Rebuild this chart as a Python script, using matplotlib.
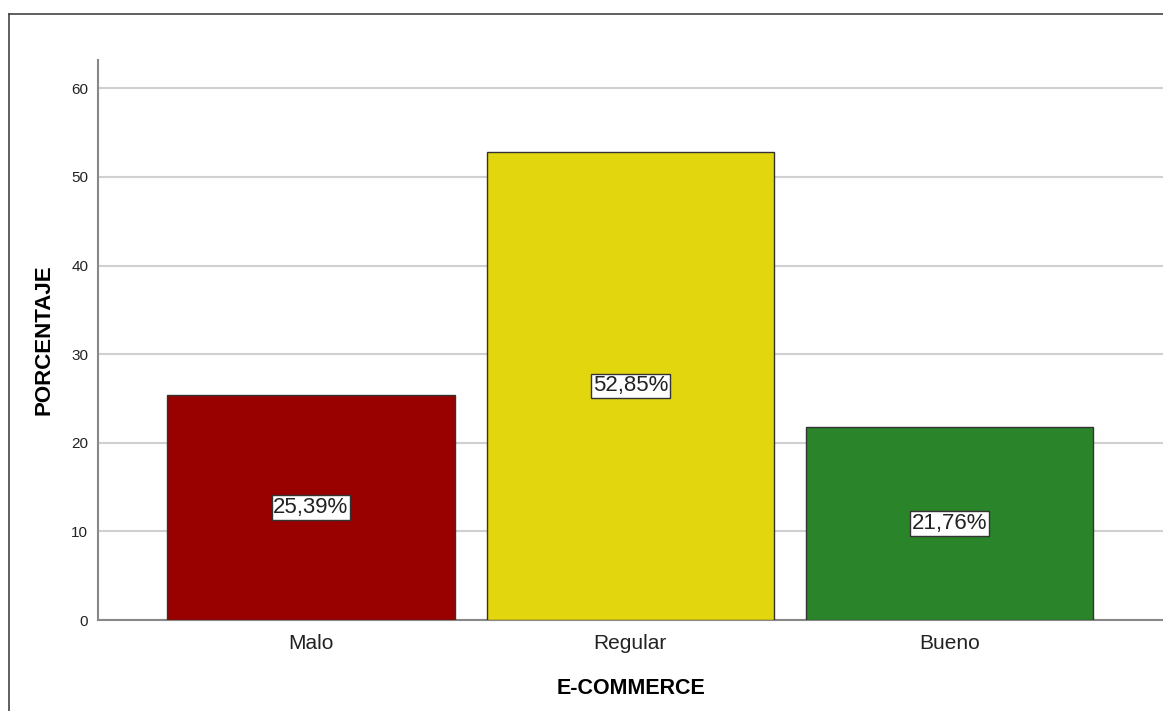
import matplotlib
matplotlib.use("Agg")
import matplotlib.pyplot as plt
from matplotlib.lines import Line2D

categories = ["Malo", "Regular", "Bueno"]
percentages = [25.39, 52.85, 21.76]
bar_colors = ["#990000", "#E2D70E", "#2A852A"]
yticks = [0, 10, 20, 30, 40, 50, 60]

plt.rcParams["font.family"] = ["Liberation Sans", "DejaVu Sans"]

W, H = 1163, 711
fig = plt.figure(figsize=(W / 100, H / 100), dpi=100)
ax = fig.add_axes([98 / W, 1 - 620 / H, 1 - 98 / W, (620 - 60) / H])

x = list(range(len(categories)))
ax.bar(x, percentages, width=0.9, color=bar_colors, edgecolor="#333333",
       linewidth=1.0, zorder=3)

for xi, val in zip(x, percentages):
    ax.text(xi, val / 2, f"{val:.2f}%".replace(".", ","), ha="center", va="center",
            fontsize=16, color="#222222", zorder=4,
            bbox=dict(boxstyle="square,pad=0.08", fc="white", ec="#333333", lw=1.0))

ax.set_xlim(-0.667, 2.668)
ax.set_ylim(0, 63.2)
ax.set_yticks(yticks)
ax.set_xticks(x)
ax.set_xticklabels(categories, fontsize=15, color="#222222")
ax.tick_params(axis="y", length=0, labelsize=11, pad=7, colors="#222222")
ax.tick_params(axis="x", length=0, pad=10)
ax.yaxis.grid(True, color="#D0D0D0", linewidth=1.5, zorder=0)
ax.set_axisbelow(True)

for side in ("top", "right"):
    ax.spines[side].set_visible(False)
for side in ("left", "bottom"):
    ax.spines[side].set_color("#888888")
    ax.spines[side].set_linewidth(1.5)

ax.set_xlabel("E-COMMERCE", fontsize=15.5, fontweight="bold", labelpad=18)
ax.set_ylabel("PORCENTAJE", fontsize=16, fontweight="bold", labelpad=12)

# outer frame (left and top edges)
fig.add_artist(Line2D([9 / W, 9 / W], [0, 1 - 14 / H], transform=fig.transFigure,
                      color="#444444", lw=1.2))
fig.add_artist(Line2D([9 / W, 1], [1 - 14 / H, 1 - 14 / H], transform=fig.transFigure,
                      color="#444444", lw=1.2))

fig.savefig("out.png", dpi=100)
